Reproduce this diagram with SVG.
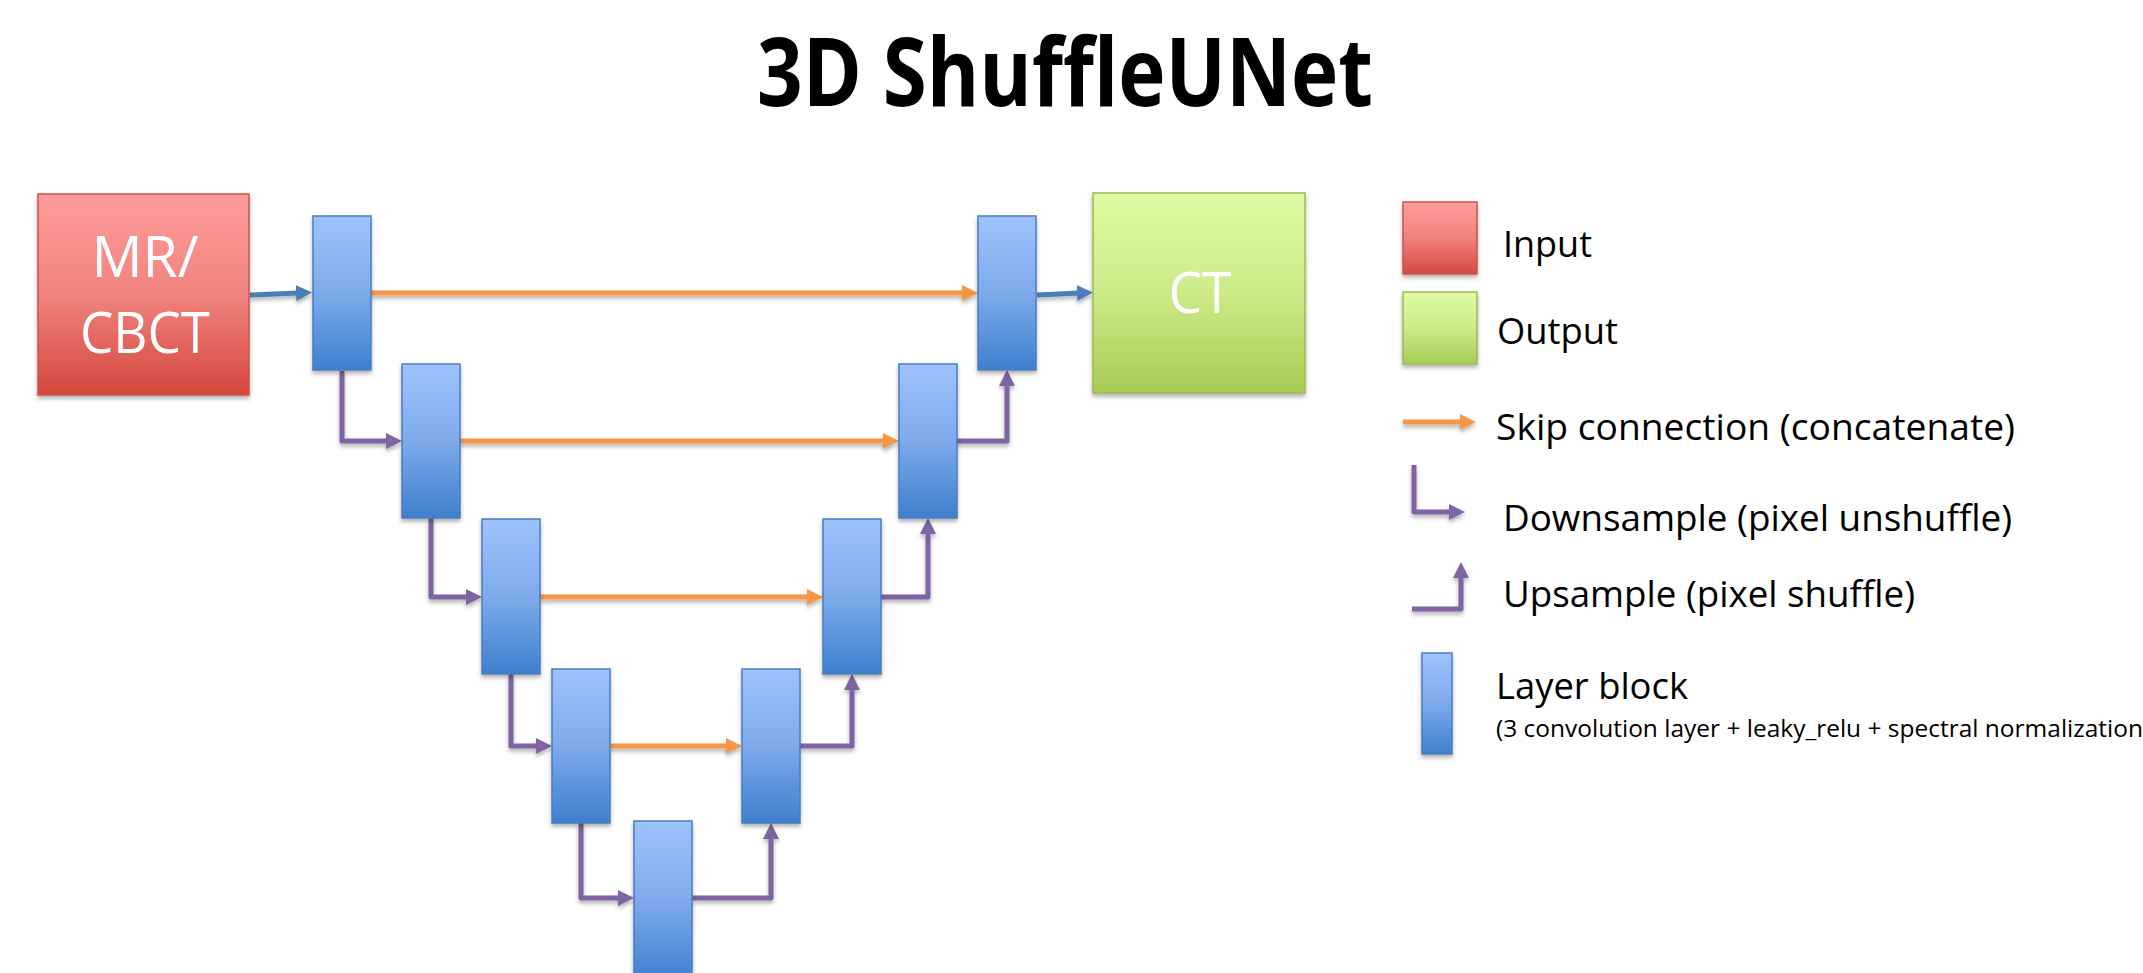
<svg xmlns="http://www.w3.org/2000/svg" width="2143" height="973" viewBox="0 0 2143 973">
  <defs>
    <linearGradient id="gBlue" x1="0" y1="0" x2="0" y2="1">
      <stop offset="0" stop-color="#9DC3FE"/>
      <stop offset="0.5" stop-color="#7EAAEC"/>
      <stop offset="1" stop-color="#3D80CE"/>
    </linearGradient>
    <linearGradient id="gRed" x1="0" y1="0" x2="0" y2="1">
      <stop offset="0" stop-color="#FF9D9A"/>
      <stop offset="0.5" stop-color="#F0837E"/>
      <stop offset="1" stop-color="#D4473D"/>
    </linearGradient>
    <linearGradient id="gGreen" x1="0" y1="0" x2="0" y2="1">
      <stop offset="0" stop-color="#DDFBA1"/>
      <stop offset="0.5" stop-color="#CCEB88"/>
      <stop offset="1" stop-color="#A6CB53"/>
    </linearGradient>
    <filter id="shadow" filterUnits="userSpaceOnUse" x="0" y="0" width="2143" height="973">
      <feDropShadow dx="0" dy="3" stdDeviation="2" flood-color="#000" flood-opacity="0.3"/>
    </filter>
    <marker id="ahOrange" viewBox="0 0 16 16" markerWidth="16" markerHeight="16" markerUnits="userSpaceOnUse" refX="3" refY="8" orient="auto">
      <path d="M0,0 L16,8 L0,16 z" fill="#F79646"/>
    </marker>
    <marker id="ahPurple" viewBox="0 0 16 16" markerWidth="16" markerHeight="16" markerUnits="userSpaceOnUse" refX="3" refY="8" orient="auto">
      <path d="M0,0 L16,8 L0,16 z" fill="#8064A2"/>
    </marker>
    <marker id="ahBlue" viewBox="0 0 16 16" markerWidth="16" markerHeight="16" markerUnits="userSpaceOnUse" refX="3" refY="8" orient="auto">
      <path d="M0,0 L16,8 L0,16 z" fill="#4A7EBB"/>
    </marker>
  </defs>
  <style>
    text { font-family: "Open Sans", "Noto Sans", "Liberation Sans", sans-serif; }
    .title { font-weight: bold; font-size: 95px; fill: #000; }
    .block { fill: url(#gBlue); stroke: #4A7EBB; stroke-width: 1.5; }
    .inbox { fill: url(#gRed); stroke: #C9524F; stroke-width: 1.5; }
    .outbox { fill: url(#gGreen); stroke: #9BBB59; stroke-width: 1.5; }
    .boxtxt { fill: #fff; font-size: 57px; text-anchor: middle; }
    .skip { fill: none; stroke: #F79646; stroke-width: 5; marker-end: url(#ahOrange); }
    .samp { fill: none; stroke: #8064A2; stroke-width: 5; stroke-linejoin: round; marker-end: url(#ahPurple); }
    .io { fill: none; stroke: #4A7EBB; stroke-width: 5; marker-end: url(#ahBlue); }
    .leg { font-size: 37px; fill: #000; }
    .legsmall { font-size: 24.5px; fill: #000; }
  </style>
  <rect x="0" y="0" width="2143" height="973" fill="#fff"/>

  <g id="title">
    <text class="title" x="757" y="106" textLength="616" lengthAdjust="spacingAndGlyphs">3D ShuffleUNet</text>
  </g>

  <g id="connectors" filter="url(#shadow)">
    <path class="io" d="M250,295 L299,293"/>
    <path class="io" d="M1037,295 L1080,293"/>
    <path class="skip" d="M371,293 H965"/>
    <path class="skip" d="M460,441 H886"/>
    <path class="skip" d="M540,597 H810"/>
    <path class="skip" d="M610,746 H729"/>
    <path class="samp" d="M342,371 V441 H389"/>
    <path class="samp" d="M431,518 V597 H469"/>
    <path class="samp" d="M511,674 V746 H539"/>
    <path class="samp" d="M581,823 V898 H621"/>
    <path class="samp" d="M692,898 H771 V836"/>
    <path class="samp" d="M800,746 H852 V687"/>
    <path class="samp" d="M881,597 H928 V531"/>
    <path class="samp" d="M957,441 H1007 V383"/>
  </g>

  <g id="nodes" filter="url(#shadow)">
    <g id="input">
      <rect class="inbox" x="38" y="194" width="211" height="201"/>
      <text class="boxtxt" x="145" y="277" textLength="107" lengthAdjust="spacingAndGlyphs">MR/</text>
      <text class="boxtxt" x="145" y="353" textLength="130" lengthAdjust="spacingAndGlyphs">CBCT</text>
    </g>
    <g id="output">
      <rect class="outbox" x="1093" y="193" width="212" height="200"/>
      <text class="boxtxt" x="1200" y="313" textLength="63" lengthAdjust="spacingAndGlyphs">CT</text>
    </g>
    <g id="b1"><rect class="block" x="313" y="216" width="58" height="154"/></g>
    <g id="b2"><rect class="block" x="402" y="364" width="58" height="154"/></g>
    <g id="b3"><rect class="block" x="482" y="519" width="58" height="155"/></g>
    <g id="b4"><rect class="block" x="552" y="669" width="58" height="154"/></g>
    <g id="b5"><rect class="block" x="634" y="821" width="58" height="160"/></g>
    <g id="b6"><rect class="block" x="742" y="669" width="58" height="154"/></g>
    <g id="b7"><rect class="block" x="823" y="519" width="58" height="155"/></g>
    <g id="b8"><rect class="block" x="899" y="364" width="58" height="154"/></g>
    <g id="b9"><rect class="block" x="978" y="216" width="58" height="154"/></g>
  </g>

  <g id="legend">
    <g id="leg-input">
      <rect class="inbox" x="1403" y="202" width="74" height="72" filter="url(#shadow)"/>
      <text class="leg" x="1503" y="257" textLength="89" lengthAdjust="spacingAndGlyphs">Input</text>
    </g>
    <g id="leg-output">
      <rect class="outbox" x="1403" y="292" width="74" height="72" filter="url(#shadow)"/>
      <text class="leg" x="1497" y="344" textLength="121" lengthAdjust="spacingAndGlyphs">Output</text>
    </g>
    <g id="leg-skip">
      <path class="skip" d="M1403,422 H1463" filter="url(#shadow)"/>
      <text class="leg" x="1496" y="440" textLength="519" lengthAdjust="spacingAndGlyphs">Skip connection (concatenate)</text>
    </g>
    <g id="leg-down">
      <path class="samp" d="M1414,465 V512 H1452" filter="url(#shadow)"/>
      <text class="leg" x="1503" y="531" textLength="509" lengthAdjust="spacingAndGlyphs">Downsample (pixel unshuffle)</text>
    </g>
    <g id="leg-up">
      <path class="samp" d="M1412,609 H1461 V575" filter="url(#shadow)"/>
      <text class="leg" x="1503" y="607" textLength="412" lengthAdjust="spacingAndGlyphs">Upsample (pixel shuffle)</text>
    </g>
    <g id="leg-block">
      <rect class="block" x="1422" y="653" width="30" height="101" filter="url(#shadow)"/>
      <text class="leg" x="1496" y="699" textLength="192" lengthAdjust="spacingAndGlyphs">Layer block</text>
      <text class="legsmall" x="1496" y="737" textLength="647" lengthAdjust="spacingAndGlyphs">(3 convolution layer + leaky_relu + spectral normalization</text>
    </g>
  </g>
</svg>
